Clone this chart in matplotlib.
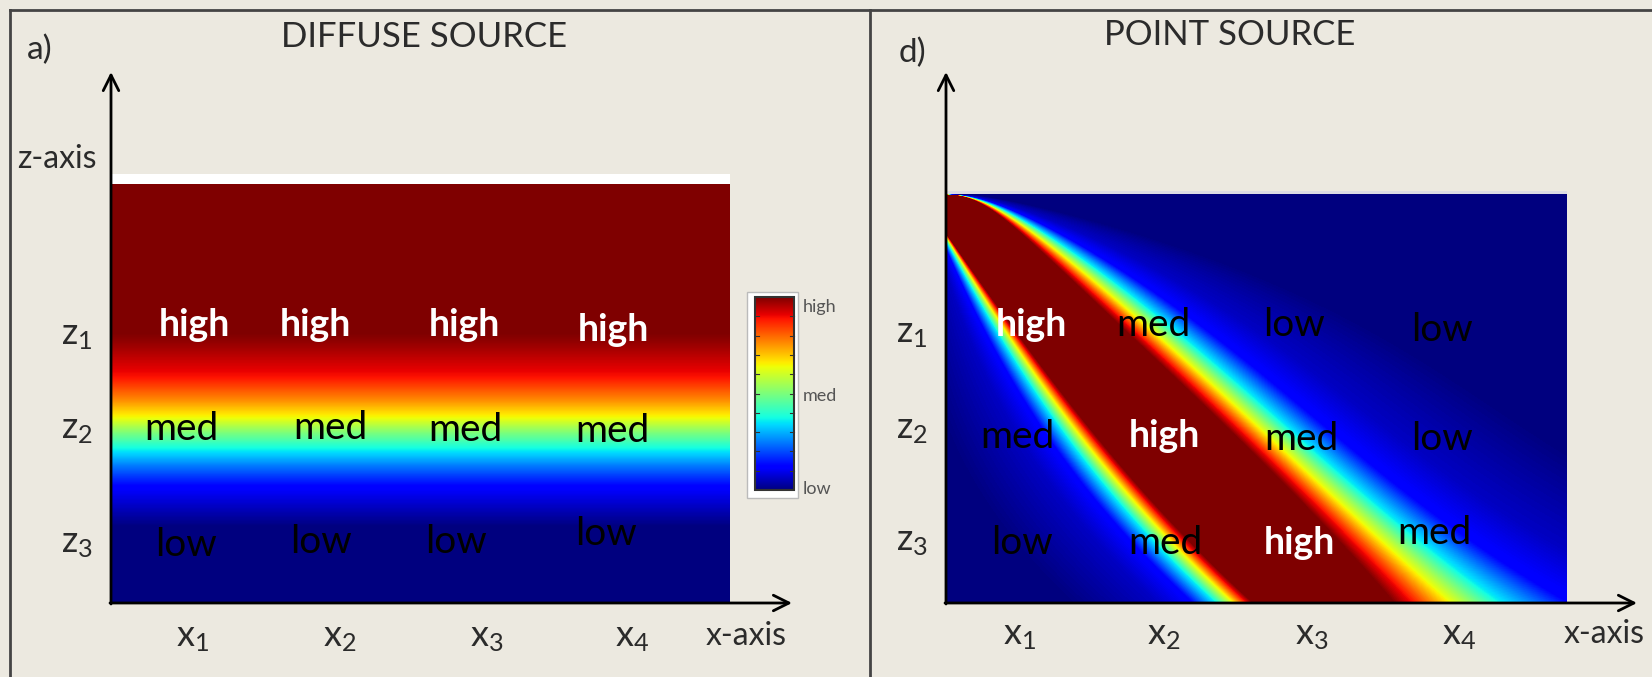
import numpy as np
import matplotlib.pyplot as plt
from matplotlib.patches import Rectangle

plt.rcParams['font.family'] = ['Lato', 'DejaVu Sans']
plt.rcParams['mathtext.fontset'] = 'custom'
plt.rcParams['mathtext.rm'] = 'Lato'
plt.rcParams['mathtext.it'] = 'Lato'
plt.rcParams['mathtext.default'] = 'regular'

# ---- values ----
titles = ['DIFFUSE SOURCE', 'POINT SOURCE']
panel_tags = ['a)', 'd)']
x_ticks = [r'$x_1$', r'$x_2$', r'$x_3$', r'$x_4$']
z_ticks = [r'$z_1$', r'$z_2$', r'$z_3$']
cbar_labels = ['high', 'med', 'low']

# diffuse source: concentration against height (0 = bottom, 1 = top of domain)
diffuse_height = [0.0, 0.181, 0.222, 0.277, 0.325, 0.365, 0.406, 0.442, 0.484, 0.539, 0.611, 0.644, 1.0]
diffuse_conc = [0.0, 0.0, 0.05, 0.12, 0.24, 0.36, 0.50, 0.64, 0.76, 0.89, 0.97, 1.0, 1.0]

# point source plume: depth below the source (0 = top, 1 = bottom)
# and horizontal position (0 = source side, 1 = far end) of the core edges
upper_depth = [0.0, 0.017, 0.074, 0.157, 0.238, 0.319, 0.402, 0.483, 0.564, 0.647, 0.809, 0.973, 1.0]
upper_edge = [0.0, 0.043, 0.108, 0.167, 0.221, 0.280, 0.333, 0.388, 0.446, 0.501, 0.614, 0.704, 0.718]
lower_depth = [0.098, 0.157, 0.319, 0.402, 0.483, 0.564, 0.647, 0.728, 0.809, 0.892, 0.973, 1.0]
lower_edge = [0.0, 0.027, 0.103, 0.147, 0.184, 0.221, 0.269, 0.317, 0.366, 0.420, 0.473, 0.490]
# width of the fringe on each side of the core
upper_spread_depth = [0.0, 0.074, 0.157, 0.319, 0.647, 0.809, 0.973]
upper_spread = [0.006, 0.032, 0.048, 0.085, 0.097, 0.129, 0.161]
lower_spread_depth = [0.098, 0.157, 0.319, 0.647, 0.973]
lower_spread = [0.005, 0.013, 0.032, 0.048, 0.060]
# fall-off across a fringe (distance in fringe widths -> concentration)
fringe_dist = [0.0, 0.18, 0.53, 1.0, 1.65, 2.6, 5.0]
fringe_conc = [1.0, 0.89, 0.64, 0.36, 0.12, 0.06, 0.0]

diffuse_words = [['high', 'high', 'high', 'high'],
                 ['med', 'med', 'med', 'med'],
                 ['low', 'low', 'low', 'low']]
point_words = [['high', 'med', 'low', 'low'],
               ['med', 'high', 'med', 'low'],
               ['low', 'med', 'high', 'med']]

# ---- fields ----
zz = np.linspace(1, 0, 420)
diffuse_img = np.interp(zz, diffuse_height, diffuse_conc)[:, None] * np.ones((1, 10))

ny, nx = 408, 621
dd = np.linspace(0, 1, ny)[:, None]
uu = np.linspace(0, 1, nx)[None, :]

# smooth curves through the read-off edge points (sqrt depth for the upper
# edge, which leaves the source along the top of the domain)
U = np.polyval(np.polyfit(np.sqrt(upper_depth), upper_edge, 4), np.sqrt(dd))
U = np.clip(U, 0, None)
L = np.polyval(np.polyfit(lower_depth, lower_edge, 3), dd)
L = np.where(dd < lower_depth[0], -1.0, L)
wu = np.clip(np.polyval(np.polyfit(upper_spread_depth, upper_spread, 3), dd), 0.005, None)
wl = np.clip(np.polyval(np.polyfit(lower_spread_depth, lower_spread, 2), dd), 0.004, None)

s_up = np.clip(uu - U, 0, None) / wu
s_lo = np.clip(L - uu, 0, None) / wl
point_img = np.ones((ny, nx))
point_img = np.where(uu > U, np.interp(s_up, fringe_dist, fringe_conc), point_img)
point_img = np.where(uu < L, np.interp(s_lo, fringe_dist, fringe_conc), point_img)

# ---- figure (axes in pixel units) ----
bg = '#ECE9E0'
fig = plt.figure(figsize=(16.52, 6.77), dpi=100, facecolor=bg)
ax = fig.add_axes([0, 0, 1, 1])
ax.set_xlim(0, 1652)
ax.set_ylim(677, 0)
ax.axis('off')
ax.set_facecolor(bg)

# frame lines
ax.plot([10, 1652], [10, 10], color='#444444', lw=2)
ax.plot([10, 10], [10, 677], color='#444444', lw=2)
ax.plot([870, 870], [10, 677], color='#444444', lw=2)

ax.imshow(diffuse_img, cmap='jet', vmin=0, vmax=1, aspect='auto',
          extent=(111, 730, 603, 184), interpolation='bilinear')
ax.add_patch(Rectangle((111, 174), 619, 10, fc='white', ec='none'))

ax.imshow(point_img, cmap='jet', vmin=0, vmax=1, aspect='auto',
          extent=(946, 1567, 602, 194), interpolation='bilinear')
ax.add_patch(Rectangle((946, 191), 621, 3, fc='#dcdce4', ec='none'))

# colour bar of the diffuse panel
ax.add_patch(Rectangle((747, 292), 51, 206, fc='white', ec='#bbbbbb', lw=1, zorder=2))
ax.imshow(np.linspace(1, 0, 256)[:, None], cmap='jet', aspect='auto',
          extent=(755, 794, 490, 297), interpolation='bilinear', zorder=3)
ax.add_patch(Rectangle((755, 297), 39, 193, fc='none', ec='#333333', lw=1.5, zorder=4))
for ty in np.linspace(297, 490, 11)[1:-1]:
    ax.plot([755, 759], [ty, ty], color='#333333', lw=0.8, zorder=4)
    ax.plot([790, 794], [ty, ty], color='#333333', lw=0.8, zorder=4)
for lab, ty in zip(cbar_labels, [307, 396, 489]):
    ax.text(803, ty, lab, fontsize=13, color='#555555', va='center', ha='left')

# axes arrows
arrow = dict(arrowstyle='->', lw=2, color='black', mutation_scale=28,
             shrinkA=0, shrinkB=0)
for x0, xt in [(111, 792), (946, 1637)]:
    ax.annotate('', xy=(x0, 72), xytext=(x0, 604), arrowprops=arrow)
    ax.annotate('', xy=(xt, 603), xytext=(x0 - 1, 603), arrowprops=arrow)

lab_col = '#2b2b2b'
ax.text(424, 37, titles[0], fontsize=25, color=lab_col, ha='center', va='center')
ax.text(1230, 35, titles[1], fontsize=25, color=lab_col, ha='center', va='center')
ax.text(40, 50, panel_tags[0], fontsize=24, color=lab_col, ha='center', va='center')
ax.text(912, 53, panel_tags[1], fontsize=24, color=lab_col, ha='center', va='center')
ax.text(57, 159, 'z-axis', fontsize=23, color=lab_col, ha='center', va='center')
ax.text(746, 636, 'x-axis', fontsize=23, color=lab_col, ha='center', va='center')
ax.text(1604, 634, 'x-axis', fontsize=23, color=lab_col, ha='center', va='center')

for lab, zy in zip(z_ticks, [336, 430, 544]):
    ax.text(77, zy, lab, fontsize=26, color=lab_col, ha='center', va='center')
for lab, zy in zip(z_ticks, [333, 430, 542]):
    ax.text(912, zy, lab, fontsize=26, color=lab_col, ha='center', va='center')
for lab, xx in zip(x_ticks, [193, 340, 487, 632]):
    ax.text(xx, 637, lab, fontsize=26, color=lab_col, ha='center', va='center')
for lab, xx in zip(x_ticks, [1020, 1164, 1312, 1459]):
    ax.text(xx, 635, lab, fontsize=26, color=lab_col, ha='center', va='center')

# words inside the fields
diffuse_pos = [[(194, 325), (315, 325), (464, 325), (613, 330)],
               [(181, 429), (330, 428), (465, 430), (612, 431)],
               [(186, 545), (321, 542), (456, 542), (606, 534)]]
point_pos = [[(1031, 325), (1153, 325), (1294, 325), (1442, 330)],
             [(1017, 437), (1164, 436), (1301, 439), (1442, 439)],
             [(1022, 543), (1165, 543), (1299, 543), (1434, 533)]]
for words, pos in [(diffuse_words, diffuse_pos), (point_words, point_pos)]:
    for row_w, row_p in zip(words, pos):
        for w, (px, py) in zip(row_w, row_p):
            if w == 'high':
                ax.text(px, py, w, fontsize=27, color='white', fontweight='bold',
                        ha='center', va='center')
            else:
                ax.text(px, py, w, fontsize=28, color='black', ha='center', va='center')

plt.savefig('out.png', dpi=100, facecolor=bg)
